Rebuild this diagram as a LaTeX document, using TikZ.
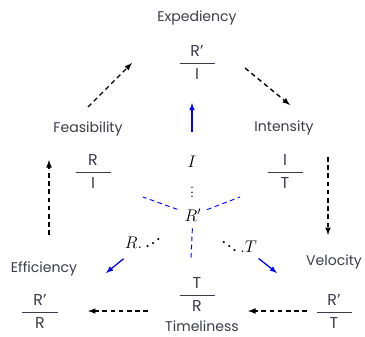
\documentclass[tikz,border=0pt]{standalone}
\usepackage{amsmath}
\usepackage{fontspec}
\setmainfont{Poppins}
\usetikzlibrary{arrows}
\definecolor{labelgray}{RGB}{60,60,75}
\newcommand{\frc}[2]{$\dfrac{\makebox[1.05cm]{\text{#1}}}{\text{#2}}$}
\newcommand{\udots}{\mathinner{\mkern1mu\raise1pt\hbox{.}\mkern2mu\raise4pt\hbox{.}\mkern2mu\raise7pt\hbox{.}\mkern1mu}}

\begin{document}
\begin{tikzpicture}[x=0.03cm, y=-0.03cm, >=latex,
    lbl/.style={font=\fontsize{12}{14}\selectfont, text=labelgray, inner sep=1pt},
    frac/.style={font=\fontsize{13.5}{15}\selectfont, text=labelgray, inner sep=0pt},
    sym/.style={font=\fontsize{14.4}{16}\selectfont, inner sep=0pt},
    flow/.style={->, dash pattern=on 4pt off 3pt, line width=1.2pt},
    ray/.style={blue, dash pattern=on 4pt off 3pt, line width=0.8pt},
    push/.style={->, blue, line width=1.1pt}]
    \useasboundingbox (0,0) rectangle (365,336);
    % labels and ratios
    \node[lbl] (expedi) at (197,18) {Expediency};
    \node[frac] (expfr) at (197,62) {\frc{R'}{I}};
    \node[lbl] (feasib) at (88,129) {Feasibility};
    \node[frac] (feafr) at (93,171) {\frc{R}{I}};
    \node[lbl] (intens) at (284,128) {Intensity};
    \node[frac] (intfr) at (285,171) {\frc{I}{T}};
    \node[lbl] (effic) at (44,269) {Efficiency};
    \node[frac] (efffr) at (40,311) {\frc{R'}{R}};
    \node[lbl] (veloc) at (334,262) {Velocity};
    \node[frac] (velfr) at (334,311) {\frc{R'}{T}};
    \node[frac] (timfr) at (197,294) {\frc{T}{R}};
    \node[lbl] (timel) at (202,326) {Timeliness};
    % centre
    \node[sym] (ci) at (192,162) {$I$};
    \node[font=\fontsize{10}{11}\selectfont, inner sep=0pt] (cdots) at (192,189) {$\vdots$};
    \node[sym] (cr) at (193,215) {$R'$};
    \node[sym] (rl) at (143,243) {$R.\udots$};
    \node[sym] (tr) at (239,243) {$\ddots.T$};
    % arrow ends
    \coordinate (feaout) at (88,107);
    \coordinate (expin) at (132,63);
    \coordinate (expout) at (245,68);
    \coordinate (intin) at (290,105);
    \coordinate (intout) at (328,157);
    \coordinate (velin) at (328,235);
    \coordinate (velout) at (307,311);
    \coordinate (timin) at (248,311);
    \coordinate (timout) at (148,311);
    \coordinate (effin) at (88,311);
    \coordinate (effout) at (49,235);
    \coordinate (feain) at (49,160);
    \coordinate (pushup) at (192,103);
    \coordinate (rayl) at (143,197);
    \coordinate (rayr) at (240,197);
    \coordinate (rayd) at (191,258);
    \coordinate (pushl) at (106,273);
    \coordinate (pushr) at (277,273);
    % cycle
    \draw[flow] (feaout) -- (expin);
    \draw[flow] (expout) -- (intin);
    \draw[flow] (intout) -- (velin);
    \draw[flow] (velout) -- (timin);
    \draw[flow] (timout) -- (effin);
    \draw[flow] (effout) -- (feain);
    % blue
    \draw[push, shorten <=0.9cm] (ci.center) -- (pushup);
    \draw[ray, shorten <=0.5cm] (cr.center) -- (rayl);
    \draw[ray, shorten <=0.45cm] (cr.center) -- (rayr);
    \draw[ray, shorten <=0.4cm] (cr.center) -- (rayd);
    \draw[push, shorten <=0.75cm] (rl.center) -- (pushl);
    \draw[push, shorten <=0.75cm] (tr.center) -- (pushr);
\end{tikzpicture}
\end{document}
